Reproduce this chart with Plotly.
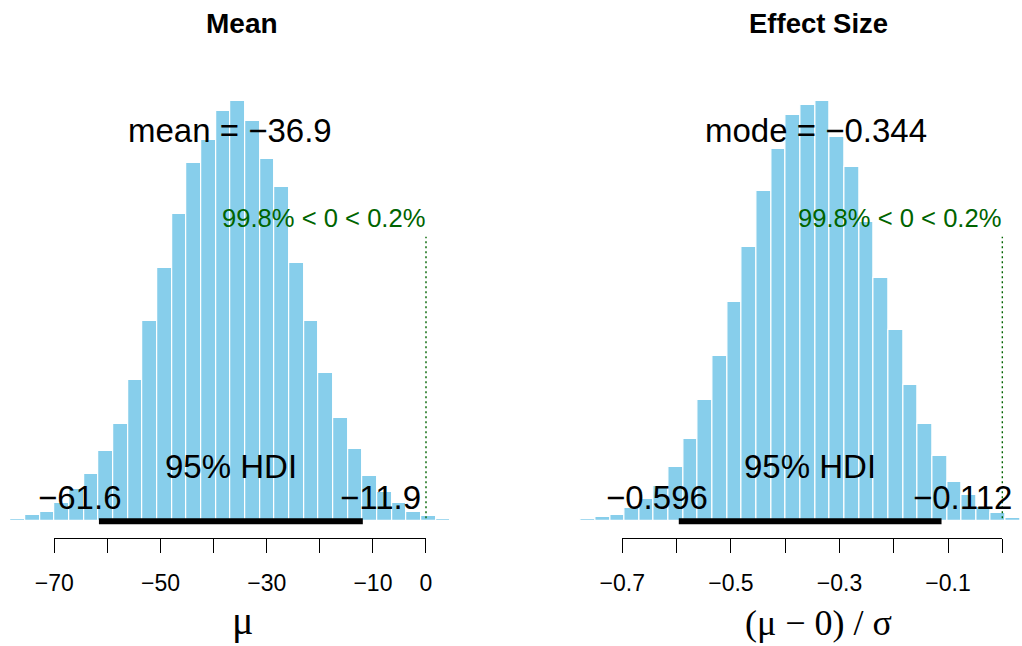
import numpy as np
import plotly.graph_objects as go

W, H = 1022, 646

# ---------------- data ----------------
mu_bin_start = -78.22
mu_bin_width = 2.761
mu_heights = [5, 18, 26, 52, 95, 140, 210, 291, 422, 598, 759, 921, 1072, 1143, 1230,
              1258, 1200, 1086, 1000, 772, 600, 444, 307, 215, 134, 86, 52, 26, 13, 5]
mu_mean = -36.9
mu_hdi = [-61.6, -11.9]
mu_ticks = [-70, -60, -50, -40, -30, -20, -10, 0]
mu_ticktext = ["−70", "", "−50", "", "−30", "", "−10", "0"]

es_bin_start = -0.7767
es_bin_width = 0.02699
es_heights = [5, 10, 16, 38, 65, 105, 160, 244, 362, 495, 657, 822, 989, 1115, 1217,
              1248, 1258, 1152, 1060, 895, 728, 573, 408, 289, 195, 117, 76, 41, 23, 8]
es_mode = -0.344
es_hdi = [-0.596, -0.112]
es_ticks = [-0.7, -0.6, -0.5, -0.4, -0.3, -0.2, -0.1, 0.0]
es_ticktext = ["−0.7", "", "−0.5", "", "−0.3", "", "−0.1", ""]

comp_val = 0
pct_text = "99.8% < 0 < 0.2%"

# ---------------- geometry helpers ----------------
def py(p):
    return 1 - p / H

# left panel pixel mapping: px = 426 + 5.3095*x
L0, LS = 426.0, 5.3095
# right panel pixel mapping: px = 1002.33 + 542.86*x
R0, RS = 1002.33, 542.86

mu_range = [-80, 6]
es_range = [-0.79, 0.035]
mu_dom = [(L0 + LS * mu_range[0]) / W, (L0 + LS * mu_range[1]) / W]
es_dom = [(R0 + RS * es_range[0]) / W, (R0 + RS * es_range[1]) / W]

base_px = 520.5
y_range = [-(H - base_px) * 3, base_px * 3]

SANS = "Liberation Sans, Arial, Helvetica, sans-serif"
SERIF = "Liberation Serif, Times New Roman, serif"
BLUE = "#87CEEB"
GREEN = "#006400"

mu_centers = mu_bin_start + mu_bin_width * (np.arange(len(mu_heights)) + 0.5)
es_centers = es_bin_start + es_bin_width * (np.arange(len(es_heights)) + 0.5)

fig = go.Figure()
fig.add_trace(go.Bar(x=mu_centers, y=mu_heights, width=mu_bin_width,
                     marker=dict(color=BLUE, line=dict(color="white", width=1.2)),
                     xaxis="x", yaxis="y", hoverinfo="skip", showlegend=False))
fig.add_trace(go.Bar(x=es_centers, y=es_heights, width=es_bin_width,
                     marker=dict(color=BLUE, line=dict(color="white", width=1.2)),
                     xaxis="x2", yaxis="y", hoverinfo="skip", showlegend=False))
# invisible traces so that the tick axes get drawn
fig.add_trace(go.Scatter(x=[mu_ticks[0], mu_ticks[-1]], y=[0, 0], mode="markers",
                         marker=dict(opacity=0), xaxis="x3", yaxis="y",
                         hoverinfo="skip", showlegend=False))
fig.add_trace(go.Scatter(x=[es_ticks[0], es_ticks[-1]], y=[0, 0], mode="markers",
                         marker=dict(opacity=0), xaxis="x4", yaxis="y",
                         hoverinfo="skip", showlegend=False))

axis_y_pos = py(538.3)
tick_common = dict(anchor="free", position=axis_y_pos, showline=True, linecolor="black",
                   linewidth=1, ticks="outside", ticklen=14, tickwidth=1, tickcolor="black",
                   showgrid=False, zeroline=False, tickmode="array", automargin=False,
                   tickfont=dict(family=SANS, size=23, color="black"),
                   ticklabelstandoff=10)

fig.update_layout(
    template="none",
    width=W, height=H, margin=dict(l=0, r=0, t=0, b=0, pad=0, autoexpand=False),
    plot_bgcolor="rgba(0,0,0,0)", paper_bgcolor="white", bargap=0, barmode="overlay",
    xaxis=dict(domain=mu_dom, range=mu_range, visible=False, anchor="y", automargin=False),
    xaxis2=dict(domain=es_dom, range=es_range, visible=False, anchor="y", automargin=False),
    xaxis3=dict(domain=[(L0 + LS * mu_ticks[0]) / W, (L0 + LS * mu_ticks[-1]) / W],
                range=[mu_ticks[0], mu_ticks[-1]], tickvals=mu_ticks, ticktext=mu_ticktext,
                **tick_common),
    xaxis4=dict(domain=[(R0 + RS * es_ticks[0]) / W, (R0 + RS * es_ticks[-1]) / W],
                range=[es_ticks[0], es_ticks[-1]], tickvals=es_ticks, ticktext=es_ticktext,
                **tick_common),
    yaxis=dict(domain=[0, 1], range=y_range, visible=False, fixedrange=True, automargin=False),
)

shapes = []
for xr, hdi in (("x", mu_hdi), ("x2", es_hdi)):
    shapes.append(dict(type="line", xref=xr, yref="y", x0=hdi[0], x1=hdi[1], y0=-2, y1=-2,
                       line=dict(color="black", width=6)))
    shapes.append(dict(type="line", xref=xr, yref="paper", x0=comp_val, x1=comp_val,
                       y0=py(518.3), y1=py(236.7),
                       line=dict(color=GREEN, width=1.4, dash="2px,3px")))
fig.update_layout(shapes=shapes)

ann = []
def add(text, x, y, xref, size, xanchor="center", xshift=0, color="black", family=SANS,
        bold=False, yanchor="middle"):
    ann.append(dict(text=f"<b>{text}</b>" if bold else text, x=x, y=y, xref=xref, yref="paper",
                    showarrow=False, xanchor=xanchor, yanchor=yanchor, xshift=xshift,
                    font=dict(family=family, size=size, color=color)))

# titles
add("Mean", 241.7 / W, py(24), "paper", 28, bold=True)
add("Effect Size", 818.3 / W, py(24), "paper", 27.5, bold=True)
# central tendency
add(f"mean = {str(mu_mean).replace('-', '−')}", mu_mean, py(130.5), "x", 33)
add(f"mode = {str(es_mode).replace('-', '−')}", es_mode, py(130.5), "x2", 33)
# comparison text
add(pct_text, comp_val, py(217.5), "x", 25.6, xanchor="right", xshift=1, color=GREEN)
add(pct_text, comp_val, py(217.5), "x2", 25.6, xanchor="right", xshift=1, color=GREEN)
# HDI
add("95% HDI", sum(mu_hdi) / 2, py(466.7), "x", 33)
add("95% HDI", sum(es_hdi) / 2, py(466.7), "x2", 33)
add(str(mu_hdi[0]).replace('-', '−'), mu_hdi[0], py(497.5), "x", 33, xanchor="right", xshift=25)
add(str(mu_hdi[1]).replace('-', '−'), mu_hdi[1], py(497.5), "x", 33, xanchor="left", xshift=-25)
add(str(es_hdi[0]).replace('-', '−'), es_hdi[0], py(497.5), "x2", 33, xanchor="right", xshift=31)
add(str(es_hdi[1]).replace('-', '−'), es_hdi[1], py(497.5), "x2", 33, xanchor="left", xshift=-31)
# axis labels
add("μ", 242 / W, py(645), "paper", 40, family=SERIF, yanchor="bottom")
add("(μ − 0) / σ", 818.3 / W, py(645), "paper", 36, family=SERIF, yanchor="bottom")

fig.update_layout(annotations=ann)
fig.write_html("out.html")
